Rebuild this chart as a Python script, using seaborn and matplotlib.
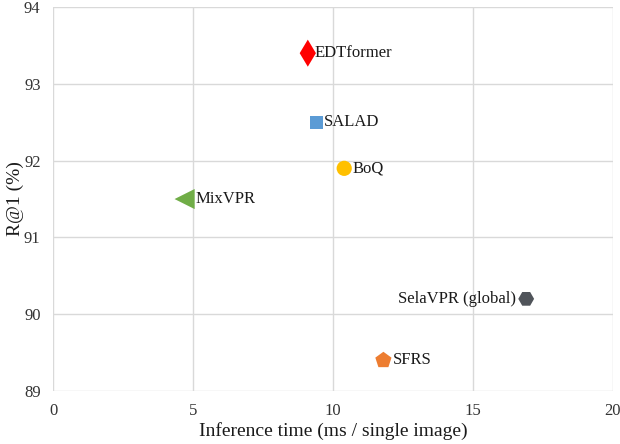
import matplotlib.pyplot as plt
import pandas as pd
import seaborn as sns

methods = ["EDTformer", "SALAD", "BoQ", "MixVPR", "SelaVPR (global)", "SFRS"]
times = [9.1, 9.4, 10.4, 4.7, 16.9, 11.8]
recall = [93.4, 92.5, 91.9, 91.5, 90.2, 89.4]

colors = {
    "EDTformer": "#FF0000",
    "SALAD": "#5B9BD5",
    "BoQ": "#FFC000",
    "MixVPR": "#70AD47",
    "SelaVPR (global)": "#50545A",
    "SFRS": "#ED7D31",
}
markers = {
    "EDTformer": "d",
    "SALAD": "s",
    "BoQ": "o",
    "MixVPR": "<",
    "SelaVPR (global)": "H",
    "SFRS": "p",
}
sizes = {
    "EDTformer": 190,
    "SALAD": 88,
    "BoQ": 120,
    "MixVPR": 210,
    "SelaVPR (global)": 130,
    "SFRS": 150,
}
# label offset in points (negative = label on the left)
offsets = {
    "EDTformer": 4.5,
    "SALAD": 5.5,
    "BoQ": 6,
    "MixVPR": 7.5,
    "SelaVPR (global)": -7,
    "SFRS": 6.5,
}

sns.set_theme(style="white")
plt.rcParams["font.family"] = ["Liberation Serif", "DejaVu Serif"]

df = pd.DataFrame({"method": methods, "time": times, "r1": recall})

fig = plt.figure(figsize=(6.2, 4.44), dpi=100)
ax = fig.add_axes([0.0855, 0.1194, 0.9032, 0.8646])

for m in methods:
    sub = df[df["method"] == m]
    sns.scatterplot(
        data=sub, x="time", y="r1", color=colors[m], marker=markers[m],
        s=sizes[m], edgecolor="none", ax=ax, legend=False, zorder=3,
    )

for m, x, y in zip(methods, times, recall):
    off = offsets[m]
    ax.annotate(m, (x, y), xytext=(off, 0), textcoords="offset points",
                ha="left" if off > 0 else "right", va="center",
                fontsize=12, color="#1a1a1a")

ax.set_xlim(0, 20)
ax.set_ylim(89, 94)
ax.set_xticks([0, 5, 10, 15, 20])
ax.set_yticks([89, 90, 91, 92, 93, 94])
ax.grid(True, color="#D9D9D9", linewidth=1)
ax.set_axisbelow(True)
for s in ax.spines.values():
    s.set_visible(False)
ax.tick_params(axis="both", length=0, labelsize=12, colors="#333333", pad=9)
ax.set_xlabel("Inference time (ms / single image)", fontsize=14, color="#1a1a1a", labelpad=2)
ax.set_ylabel("R@1 (%)", fontsize=14, color="#1a1a1a", labelpad=0)

fig.savefig("out.png", dpi=100)
